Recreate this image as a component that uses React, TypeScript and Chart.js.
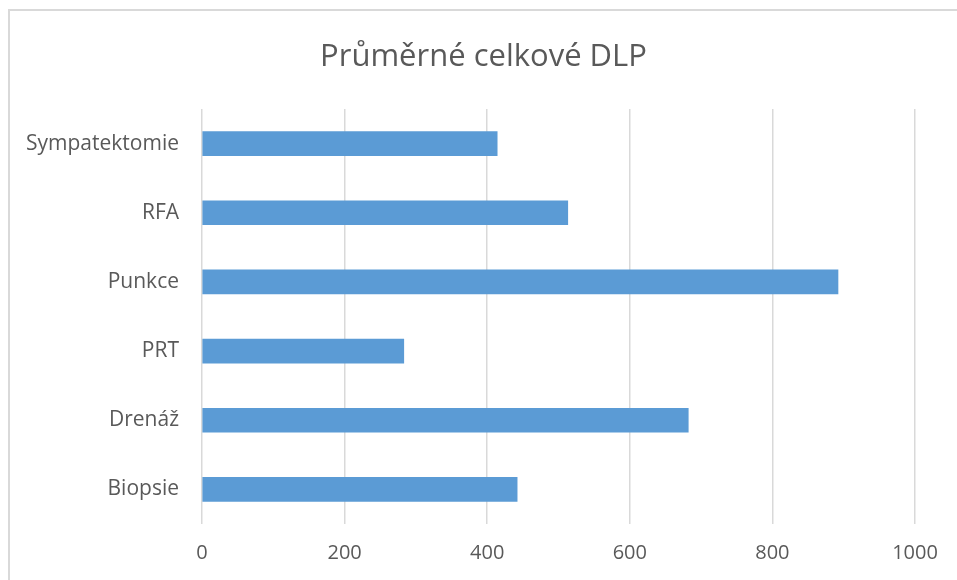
import React, { useEffect, useRef } from "react";
import { Chart, registerables } from "chart.js";

Chart.register(...registerables);

const categories = ["Sympatektomie", "RFA", "Punkce", "PRT", "Drenáž", "Biopsie"];
const values = [414, 513, 892, 283, 682, 442];
const xTicks = [0, 200, 400, 600, 800, 1000];
const title = "Průměrné celkové DLP";

export default function App() {
  const ref = useRef<HTMLCanvasElement | null>(null);
  useEffect(() => {
    if (!ref.current) return;
    const font = "'Open Sans', 'Noto Sans', sans-serif";
    const titlePlugin = {
      id: "centeredTitle",
      afterDraw(chart: any) {
        const ctx = chart.ctx;
        ctx.save();
        ctx.fillStyle = "#595959";
        ctx.font = `normal 31px ${font}`;
        ctx.textAlign = "center";
        ctx.textBaseline = "middle";
        ctx.fillText(title, chart.width / 2, 46);
        ctx.restore();
      },
    };
    const chart = new Chart(ref.current, {
      type: "bar",
      data: {
        labels: categories,
        datasets: [
          {
            label: "DLP",
            data: values,
            backgroundColor: "#5b9bd5",
            barThickness: 24,
          },
        ],
      },
      plugins: [titlePlugin],
      options: {
        indexAxis: "y",
        animation: false,
        responsive: false,
        maintainAspectRatio: false,
        layout: { padding: { left: 0, right: 42, top: 98, bottom: 0 } },
        plugins: {
          legend: { display: false },
          tooltip: { enabled: false },
          title: { display: false },
        },
        scales: {
          x: {
            min: 0,
            max: 1000,
            afterBuildTicks: (axis: any) => {
              axis.ticks = xTicks.map((v) => ({ value: v }));
            },
            afterFit: (axis: any) => {
              axis.height = 56;
            },
            grid: { color: "#d9d9d9", lineWidth: 1.5, drawTicks: false },
            border: { display: false },
            ticks: {
              color: "#595959",
              font: { family: font, size: 20 },
              padding: 17,
              callback: (v: any) => String(v),
            },
          },
          y: {
            afterFit: (axis: any) => {
              axis.width = 192;
            },
            grid: { display: false, drawTicks: false },
            border: { display: false },
            ticks: {
              color: "#595959",
              font: { family: font, size: 21 },
              padding: 23,
            },
          },
        },
      },
    });
    return () => chart.destroy();
  }, []);
  return (
    <div
      style={{
        position: "absolute",
        left: 8,
        top: 9,
        width: 949,
        height: 571,
        borderLeft: "2px solid #d9d9d9",
        borderTop: "2px solid #d9d9d9",
        boxSizing: "border-box",
        background: "#fff",
      }}
    >
      <canvas ref={ref} width={947} height={569} style={{ display: "block" }} />
    </div>
  );
}
